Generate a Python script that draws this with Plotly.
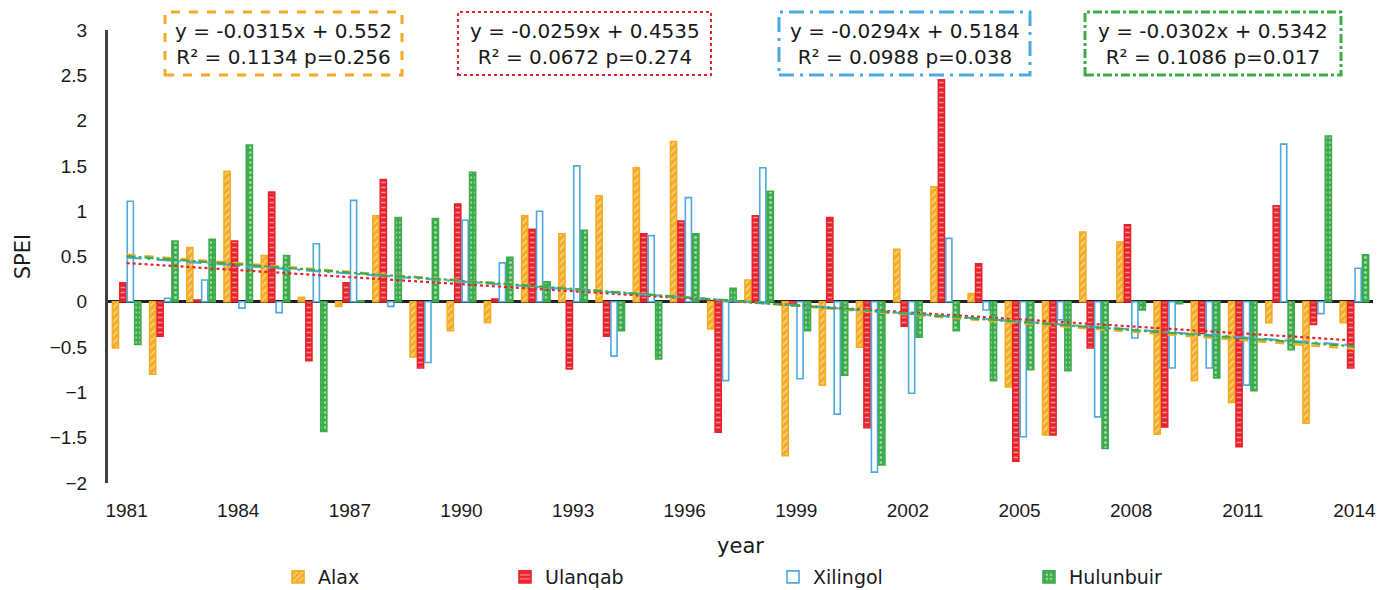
import plotly.graph_objects as go

years = list(range(1981, 2015))
alax = [-0.51, -0.80, 0.60, 1.44, 0.51, 0.05, -0.05, 0.95, -0.61, -0.32, -0.23, 0.95, 0.75, 1.17, 1.48, 1.77, -0.30, 0.24,
        -1.70, -0.92, -0.50, 0.58, 1.27, 0.09, -0.94, -1.47, 0.77, 0.66, -1.46, -0.87, -1.11, -0.23, -1.34, -0.23]
ulanqab = [0.21, -0.38, 0.02, 0.67, 1.21, -0.65, 0.21, 1.35, -0.73, 1.08, 0.03, 0.80, -0.74, -0.38, 0.75, 0.89, -1.44, 0.95,
           -0.03, 0.93, -1.39, -0.27, 2.45, 0.42, -1.76, -1.47, -0.51, 0.85, -1.38, -0.35, -1.60, 1.06, -0.25, -0.73]
xilingol = [1.11, 0.04, 0.24, -0.07, -0.12, 0.64, 1.12, -0.05, -0.67, 0.90, 0.43, 1.00, 1.50, -0.60, 0.73, 1.15, -0.87, 1.48,
            -0.85, -1.24, -1.88, -1.01, 0.70, -0.09, -1.49, -0.20, -1.27, -0.40, -0.73, -0.73, -0.92, 1.74, -0.13, 0.37]
hulunbuir = [-0.47, 0.67, 0.69, 1.73, 0.51, -1.43, 0.01, 0.93, 0.92, 1.43, 0.49, 0.22, 0.79, -0.32, -0.63, 0.75, 0.15, 1.22,
             -0.32, -0.81, -1.80, -0.39, -0.32, -0.87, -0.75, -0.76, -1.62, -0.09, -0.02, -0.84, -0.98, -0.53, 1.83, 0.52]

names = ["Alax", "Ulanqab", "Xilingol", "Hulunbuir"]
series = [alax, ulanqab, xilingol, hulunbuir]
slopes = [-0.0315, -0.0259, -0.0294, -0.0302]
intercepts = [0.552, 0.4535, 0.5184, 0.5342]
r2 = ["0.1134", "0.0672", "0.0988", "0.1086"]
pvals = ["0.256", "0.274", "0.038", "0.017"]
xticks = list(range(1981, 2015, 3))

colors = ["#F4AC25", "#E8222B", "#4DA9E0", "#3CAB4A"]
patterns = ["/", "-", "", "."]
fills = ["#F4AC25", "#E8222B", "#FFFFFF", "#3CAB4A"]
trend_dash = ["dash", "dot", "longdashdot", "dashdot"]
box_dash = ["dash", "dot", "longdashdot", "dashdot"]

WIDE = "DejaVu Sans, Verdana, sans-serif"
TICK = "Liberation Sans, Arial, sans-serif"

L, R, T, B = 108, 12, 30, 107
W, H = 1385, 590
pw, ph = W - L - R, H - T - B

def px2x(px):
    return (px - L) / pw

def py2y(py):
    return (H - B - py) / ph

fig = go.Figure()
legend_ids = ["legend", "legend2", "legend3", "legend4"]
for i in range(4):
    fig.add_trace(go.Bar(
        x=years, y=series[i], name=names[i], legend=legend_ids[i],
        marker=dict(color=fills[i], line=dict(color=colors[i], width=1.6),
                    pattern=dict(shape=patterns[i], fgcolor="white", size=5, solidity=0.3)),
    ))

for i in range(4):
    xs = [years[0], years[-1]]
    ys = [slopes[i] * 1 + intercepts[i], slopes[i] * len(years) + intercepts[i]]
    fig.add_trace(go.Scatter(x=xs, y=ys, mode="lines", showlegend=False,
                             line=dict(color=colors[i], width=2.2, dash=trend_dash[i]),
                             hoverinfo="skip"))

boxes = [(165, 402), (458, 711), (779, 1030), (1085, 1341)]
for i, (x0, x1) in enumerate(boxes):
    fig.add_shape(type="rect", xref="paper", yref="paper",
                  x0=px2x(x0), x1=px2x(x1), y0=py2y(75), y1=py2y(12),
                  line=dict(color=colors[i], width=3 if i != 1 else 2, dash=box_dash[i]),
                  fillcolor="rgba(0,0,0,0)")
    fig.add_annotation(xref="paper", yref="paper", x=px2x((x0 + x1) / 2), y=py2y(44),
                       text=f"y = {slopes[i]}x + {intercepts[i]}<br>R² = {r2[i]} p={pvals[i]}",
                       showarrow=False, font=dict(size=20, color="#1a1a1a", family=WIDE),
                       align="center", xanchor="center", yanchor="middle")

legend_px = [278, 505, 773, 1029]
layout_legends = {}
for i, lid in enumerate(legend_ids):
    layout_legends[lid] = dict(x=px2x(legend_px[i]), y=py2y(577), xanchor="left", yanchor="middle",
                               orientation="h", bgcolor="rgba(0,0,0,0)",
                               font=dict(size=19, color="#1a1a1a", family=WIDE),
                               itemwidth=30)

fig.update_layout(
    width=W, height=H,
    margin=dict(l=L, r=R, t=T, b=B, autoexpand=False),
    plot_bgcolor="white", paper_bgcolor="white",
    barmode="group", bargap=0.2, bargroupgap=0.18,
    font=dict(family=TICK, size=19, color="#1a1a1a"),
    **layout_legends,
)
fig.update_xaxes(range=[1980.5, 2014.5], tickvals=xticks, ticktext=[str(v) for v in xticks],
                 showgrid=False, showline=False, zeroline=False, ticks="", automargin=False,
                 ticklabelstandoff=14,
                 title=dict(text="year", font=dict(size=21, family=WIDE), standoff=18))
fig.update_yaxes(range=[-2, 3], dtick=0.5, showgrid=False, showline=True, linecolor="#404040", linewidth=3,
                 zeroline=True, zerolinecolor="#222222", zerolinewidth=2.5, ticks="", automargin=False,
                 ticklabelstandoff=14,
                 title=dict(text="SPEI", font=dict(size=21, family=WIDE), standoff=14))

fig.write_html("out.html", config={"displayModeBar": False},
               post_script="document.body.style.margin='0px';document.body.style.overflow='hidden';")
